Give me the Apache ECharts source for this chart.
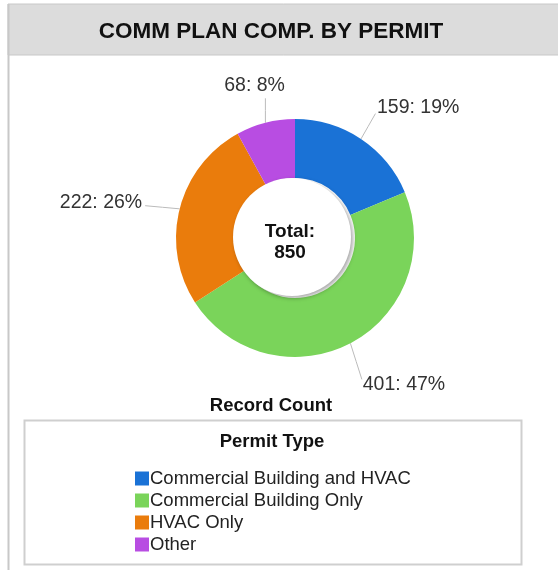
<!DOCTYPE html>
<html>
<head>
<meta charset="UTF-8">
<script src="https://cdn.jsdelivr.net/npm/echarts@6/dist/echarts.min.js"></script>
<style>
  html, body { margin: 0; padding: 0; background: #fff; }
  #echarts { width: 558px; height: 570px; }
</style>
</head>
<body>
<div id="echarts"></div>
<script type="text/javascript">
    // data
    var categories = ['Commercial Building and HVAC', 'Commercial Building Only', 'HVAC Only', 'Other'];
    var counts = [159, 401, 222, 68];
    var colors = ['#1a72d6', '#7ad45a', '#ea7c0c', '#b84de2'];
    var totalText = 'Total:\n850';

    var font = '"Liberation Sans", Arial, sans-serif';

    // nudges so the labels sit where the original puts them
    var labelShift = [[-1, -16], [-3, 25], [-13, -2], [31, -20]];

    var pieData = [];
    for (var i = 0; i < categories.length; i++) {
        pieData.push({
            name: categories[i],
            value: counts[i],
            itemStyle: { color: colors[i] }
        });
    }

    // straight guide line from the slice edge to the nearest point of the moved label
    function guide(p, s) {
        var a = p.labelLinePoints[0];
        var r = p.labelRect;
        var x0 = r.x + s[0], y0 = r.y + s[1];
        var bx = Math.min(Math.max(a[0], x0), x0 + r.width);
        var by;
        if (a[0] < x0 || a[0] > x0 + r.width) {
            by = Math.min(Math.max(a[1], y0 + r.height * 0.4), y0 + r.height * 0.65);
        } else {
            by = Math.min(Math.max(a[1], y0), y0 + r.height);
        }
        var dx = a[0] - bx, dy = a[1] - by;
        var d = Math.sqrt(dx * dx + dy * dy) || 1;
        var b = [bx + dx / d * 3, by + dy / d * 3];
        return [a, [(a[0] + b[0]) / 2, (a[1] + b[1]) / 2], b];
    }

    var myChart = echarts.init(document.getElementById('echarts'));
    var option = {
        animation: false,
        title: [
            {
                text: 'COMM PLAN COMP. BY PERMIT',
                left: 266, top: 15, textAlign: 'center',
                textStyle: { fontFamily: font, fontSize: 22.5, fontWeight: 'bold', color: '#111' }
            },
            {
                text: totalText,
                left: 285, top: 216, textAlign: 'center', z: 10,
                textStyle: { fontFamily: font, fontSize: 19, fontWeight: 'bold', color: '#111', lineHeight: 21 }
            },
            {
                text: 'Record Count',
                left: 266, top: 391, textAlign: 'center',
                textStyle: { fontFamily: font, fontSize: 18.5, fontWeight: 'bold', color: '#111' }
            },
            {
                text: 'Permit Type',
                left: 267, top: 427, textAlign: 'center',
                textStyle: { fontFamily: font, fontSize: 18.5, fontWeight: 'bold', color: '#111' }
            }
        ],
        graphic: [
            { type: 'rect', z: -10, shape: { x: 8, y: 4, width: 560, height: 51 },
              style: { fill: '#dcdcdc', stroke: '#c8c8c8', lineWidth: 1 } },
            { type: 'line', z: -10, shape: { x1: 8.5, y1: 4, x2: 8.5, y2: 570 },
              style: { stroke: '#c8c8c8', lineWidth: 2 } },
            { type: 'rect', z: -10, shape: { x: 24.5, y: 420.5, width: 497, height: 144 },
              style: { fill: '#fff', stroke: '#cfcfcf', lineWidth: 2 } },
            // soft shadow round the hole
            { type: 'circle', z: 5, shape: { cx: 292, cy: 237, r: 59 },
              style: { fill: '#fff', shadowColor: 'rgba(0,0,0,0.35)', shadowBlur: 4, shadowOffsetX: 2, shadowOffsetY: 2 } }
        ],
        legend: {
            orient: 'vertical',
            left: 130, top: 464, height: 100,
            itemWidth: 14, itemHeight: 14, itemGap: 3,
            icon: 'rect',
            selectedMode: false,
            textStyle: { fontFamily: font, fontSize: 18.5, color: '#222', padding: [0, 0, 0, -4] },
            data: categories
        },
        series: [{
            type: 'pie',
            center: [295, 238],
            radius: [60, 119],
            startAngle: 90,
            clockwise: true,
            data: pieData,
            label: {
                show: true,
                position: 'outside',
                formatter: '{c}: {d}%',
                fontFamily: font,
                fontSize: 19.5,
                color: '#333'
            },
            labelLine: {
                show: true,
                length: 18,
                length2: 2,
                lineStyle: { color: '#bbb', width: 1 }
            },
            labelLayout: function (p) {
                var s = labelShift[p.dataIndex];
                return { dx: s[0], dy: s[1], labelLinePoints: guide(p, s) };
            },
            percentPrecision: 0,
            emphasis: { disabled: true }
        }]
    };
    myChart.setOption(option);
</script>
</body>
</html>
